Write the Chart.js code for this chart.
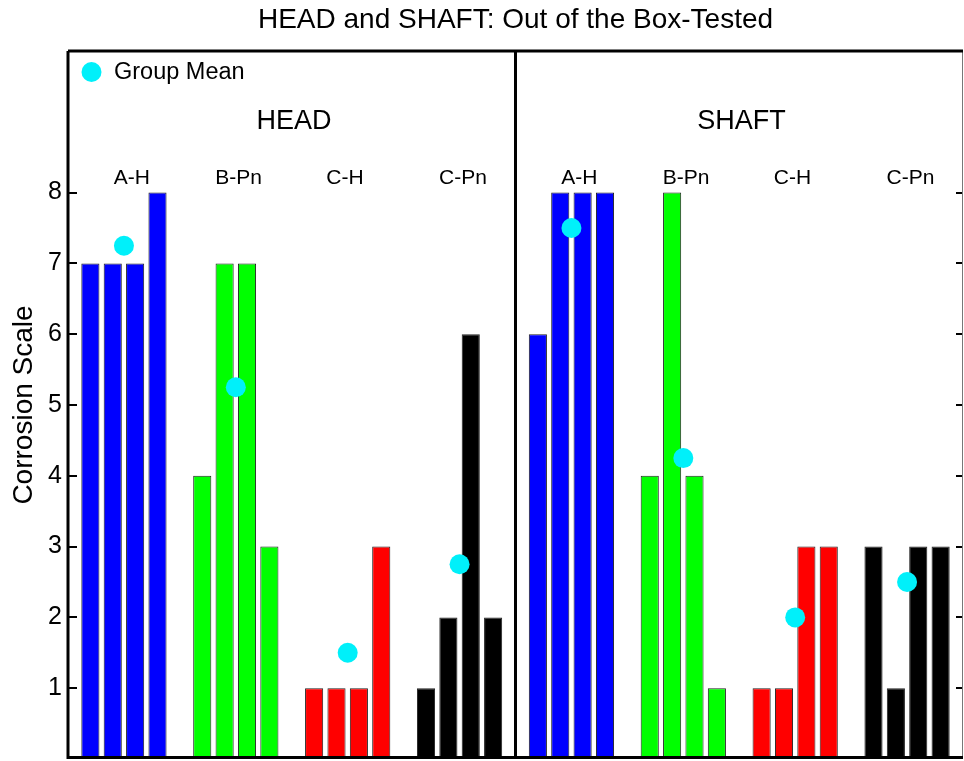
<!DOCTYPE html>
<html>
<head>
<meta charset="utf-8">
<title>HEAD and SHAFT: Out of the Box-Tested</title>
<script src="https://cdn.jsdelivr.net/npm/chart.js@4.4.1/dist/chart.umd.min.js"></script>
<style>
    html, body { margin: 0; padding: 0; background: #fff; overflow: hidden; }
    .chart-box { position: absolute; left: 0; top: 0; width: 964px; height: 761px; }
</style>
</head>
<body>
<div class="chart-box"><canvas id="corrosionChart"></canvas></div>
<script>
// ============================================
// Data
// ============================================
const sections = ['HEAD', 'SHAFT'];
const groups = ['A-H', 'B-Pn', 'C-H', 'C-Pn'];
const groupColors = ['#0000ff', '#00ff00', '#ff0000', '#000000'];

// four samples per group
const headValues = [
    [7, 7, 7, 8],
    [4, 7, 7, 3],
    [1, 1, 1, 3],
    [1, 2, 6, 2]
];
const shaftValues = [
    [6, 8, 8, 8],
    [4, 8, 4, 1],
    [1, 1, 3, 3],
    [3, 1, 3, 3]
];
const headMeans = [7.25, 5.25, 1.5, 2.75];
const shaftMeans = [7.5, 4.25, 2, 2.5];
const yTicks = [1, 2, 3, 4, 5, 6, 7, 8];

// ============================================
// Layout helpers (slot index on the x scale)
// ============================================
const sectionValues = [headValues, shaftValues];
const sectionMeans = [headMeans, shaftMeans];
const labelShift = [0.35, 0.12, -0.12, 0.15];   // group label nudges, in slots

function slotX(s, g, j) { return s * 20 + g * 5 + 1 + j; }
function groupCenter(s, g) { return s * 20 + g * 5 + 2.5; }
function sectionCenter(s) { return s * 20 + 10; }

const barDatasets = groups.map(function(name, g) {
    const points = [];
    sectionValues.forEach(function(values, s) {
        values[g].forEach(function(v, j) {
            points.push({ x: slotX(s, g, j), y: v });
        });
    });
    return {
        type: 'bar',
        label: name,
        data: points,
        backgroundColor: groupColors[g],
        borderColor: '#222',
        borderWidth: 1,
        borderSkipped: false,
        barPercentage: 0.81,
        categoryPercentage: 1,
        grouped: false,
        order: 2
    };
});

const meanPoints = [];
sectionMeans.forEach(function(means, s) {
    means.forEach(function(m, g) {
        meanPoints.push({ x: groupCenter(s, g), y: m });
    });
});

const MEAN_COLOR = '#00f0fa';
const FONT = '"Liberation Sans", Arial, sans-serif';

// ============================================
// Frame, ticks and annotations
// ============================================
const framePlugin = {
    id: 'frame',
    afterDraw: function(chart) {
        const ctx = chart.ctx;
        const area = chart.chartArea;
        const xs = chart.scales.x;
        const ys = chart.scales.y;

        function line(x1, y1, x2, y2) {
            ctx.beginPath();
            ctx.moveTo(x1, y1);
            ctx.lineTo(x2, y2);
            ctx.stroke();
        }

        ctx.save();

        // inward tick marks, both sides
        ctx.strokeStyle = '#000';
        ctx.lineWidth = 2;
        yTicks.forEach(function(v) {
            const py = Math.round(ys.getPixelForValue(v));
            line(area.left, py, area.left + 9, py);
            line(area.right - 7, py, area.right, py);
        });

        // thin right edge
        ctx.lineWidth = 1;
        ctx.strokeStyle = '#777';
        line(area.right - 0.5, area.top, area.right - 0.5, area.bottom);

        // heavy frame and section divider
        ctx.lineWidth = 3;
        ctx.strokeStyle = '#000';
        line(area.left, area.top, area.right, area.top);
        line(area.left, area.bottom - 1.5, area.right, area.bottom - 1.5);
        line(area.left, area.top, area.left, area.bottom);
        const divX = xs.getPixelForValue(20);
        line(divX, area.top, divX, area.bottom);

        // section and group labels
        ctx.fillStyle = '#000';
        ctx.textAlign = 'center';
        ctx.textBaseline = 'middle';
        ctx.font = '27px ' + FONT;
        sections.forEach(function(name, s) {
            ctx.fillText(name, xs.getPixelForValue(sectionCenter(s) + 0.1), ys.getPixelForValue(9.0));
        });
        ctx.font = '21px ' + FONT;
        sections.forEach(function(name, s) {
            groups.forEach(function(gName, g) {
                ctx.fillText(gName, xs.getPixelForValue(groupCenter(s, g) + labelShift[g]), ys.getPixelForValue(8.2));
            });
        });

        // legend
        const lx = area.left + 23.5;
        const ly = area.top + 21;
        ctx.fillStyle = MEAN_COLOR;
        ctx.beginPath();
        ctx.arc(lx, ly, 10, 0, Math.PI * 2);
        ctx.fill();
        ctx.fillStyle = '#000';
        ctx.textAlign = 'left';
        ctx.font = '23.5px ' + FONT;
        ctx.fillText('Group Mean', area.left + 46, ly + 1);

        ctx.restore();
    }
};

// ============================================
// Chart
// ============================================
Chart.defaults.font.family = FONT;
Chart.defaults.color = '#000';

new Chart(document.getElementById('corrosionChart').getContext('2d'), {
    type: 'bar',
    data: {
        datasets: barDatasets.concat([{
            type: 'scatter',
            label: 'Group Mean',
            data: meanPoints,
            pointRadius: 10,
            pointBackgroundColor: MEAN_COLOR,
            pointBorderWidth: 0,
            showLine: false,
            order: 1
        }])
    },
    options: {
        responsive: true,
        maintainAspectRatio: false,
        animation: false,
        devicePixelRatio: 1,
        layout: {
            autoPadding: false,
            padding: { left: 0, right: 1, top: 0, bottom: 2 }
        },
        plugins: {
            legend: { display: false },
            tooltip: { enabled: false },
            title: {
                display: true,
                fullSize: false,
                text: 'HEAD and SHAFT: Out of the Box-Tested',
                font: { size: 28, weight: 'normal', lineHeight: 1.2 },
                padding: { top: 3, bottom: 14.4 }
            }
        },
        scales: {
            x: {
                type: 'linear',
                min: 0,
                max: 40,
                offset: false,
                display: false,
                grid: { display: false, offset: false }
            },
            y: {
                min: 0,
                max: 10,
                afterBuildTicks: function(scale) {
                    scale.ticks = yTicks.map(function(v) { return { value: v }; });
                },
                afterFit: function(scale) {
                    scale.width = 68;
                    // ticks never reach the ends, so no label overhang is needed
                    scale.paddingTop = 0;
                    scale.paddingBottom = 0;
                },
                grid: { display: false, drawTicks: false },
                border: { display: false },
                ticks: {
                    font: { size: 25 },
                    padding: 6
                },
                title: {
                    display: true,
                    text: 'Corrosion Scale',
                    font: { size: 28 },
                    padding: { top: 7, bottom: 0 }
                }
            }
        }
    },
    plugins: [framePlugin]
});
</script>
</body>
</html>
